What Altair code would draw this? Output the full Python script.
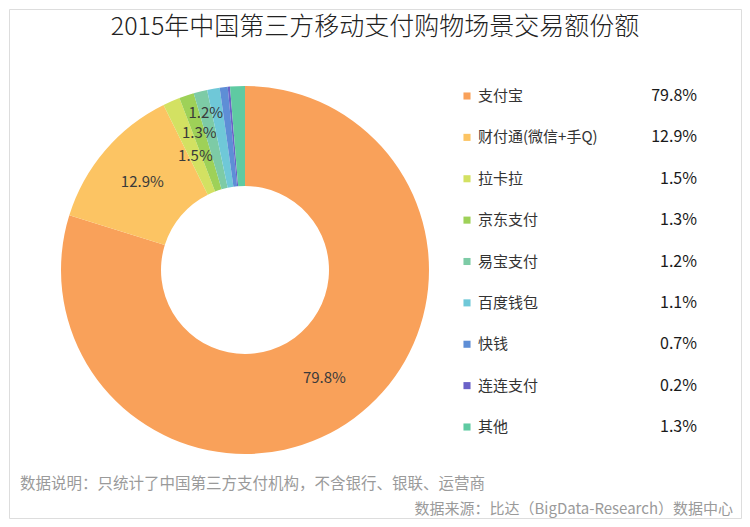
import altair as alt
import pandas as pd

# ---- data ----
names = ["支付宝", "财付通(微信+手Q)", "拉卡拉", "京东支付", "易宝支付", "百度钱包", "快钱", "连连支付", "其他"]
values = [79.8, 12.9, 1.5, 1.3, 1.2, 1.1, 0.7, 0.2, 1.3]
colors = ["#F9A15A", "#FCC463", "#D3E162", "#9ED158", "#7DCBA6", "#6FC8D8", "#5E8ED6", "#6A62C8", "#5FCAA2"]
pie_labeled = ["支付宝", "财付通(微信+手Q)", "拉卡拉", "京东支付", "易宝支付"]

title_text = "2015年中国第三方移动支付购物场景交易额份额"
note1 = "数据说明：只统计了中国第三方支付机构，不含银行、银联、运营商"
note2 = "数据来源：比达（BigData-Research）数据中心"

df = pd.DataFrame({
    "name": names,
    "value": values,
    "idx": list(range(len(names))),
})
df["pct"] = [f"{v:.1f}%" for v in values]

# ---- layout (styles) ----
PAD = 1
W, H = 732, 509
OFF = 8 + PAD  # page offset of the view origin
CX, CY = 245 - OFF, 270 - OFF
R_OUT, R_IN = 184, 84
FONT = "Noto Sans CJK SC"

color_scale = alt.Scale(domain=names, range=colors)
base = alt.Chart(df)

donut = base.mark_arc(innerRadius=R_IN, outerRadius=R_OUT).encode(
    theta=alt.Theta("value:Q", stack=True),
    color=alt.Color("name:N", scale=color_scale, legend=None),
    order=alt.Order("idx:Q"),
    x=alt.value(CX),
    y=alt.value(CY),
)

label_radius = {"支付宝": 134, "财付通(微信+手Q)": 135, "拉卡拉": 124, "京东支付": 144, "易宝支付": 162}

label_layers = []
for nm in pie_labeled:
    r = label_radius[nm]
    lyr = base.transform_calculate(
        lab=f"datum.name === '{nm}' ? datum.pct : ''"
    ).mark_text(radius=r, font=FONT, fontSize=15, color="#3a3a3a").encode(
        theta=alt.Theta("value:Q", stack=True),
        order=alt.Order("idx:Q"),
        text="lab:N",
        x=alt.value(CX),
        y=alt.value(CY),
    )
    label_layers.append(lyr)

yscale = alt.Scale(domain=names, range=[96 - OFF, 427 - OFF], padding=0)

leg_sq = base.mark_square(size=50, opacity=1).encode(
    x=alt.value(467 - OFF),
    y=alt.Y("name:N", scale=yscale, axis=None),
    color=alt.Color("name:N", scale=color_scale, legend=None),
)
leg_txt = base.mark_text(align="left", baseline="middle", font=FONT, fontSize=15, color="#333333").encode(
    x=alt.value(478 - OFF),
    y=alt.Y("name:N", scale=yscale, axis=None),
    text="name:N",
)
leg_val = base.mark_text(align="right", baseline="middle", font=FONT, fontSize=16, color="#1a1a1a").encode(
    x=alt.value(697 - OFF),
    y=alt.Y("name:N", scale=yscale, axis=None),
    text="pct:N",
)

title = alt.Chart(pd.DataFrame({"t": [title_text]})).mark_text(
    font=FONT, fontSize=25, fontWeight=300, color="#222222", align="center", baseline="middle"
).encode(x=alt.value(375 - OFF), y=alt.value(27 - OFF), text="t:N")
n1 = alt.Chart(pd.DataFrame({"t": [note1]})).mark_text(
    font=FONT, fontSize=15.5, color="#9a9a9a", align="left", baseline="middle"
).encode(x=alt.value(20 - OFF), y=alt.value(484 - OFF), text="t:N")
n2 = alt.Chart(pd.DataFrame({"t": [note2]})).mark_text(
    font=FONT, fontSize=15, color="#9a9a9a", align="right", baseline="middle"
).encode(x=alt.value(733 - OFF), y=alt.value(509 - OFF), text="t:N")

chart = alt.layer(donut, *label_layers, leg_sq, leg_txt, leg_val, title, n1, n2).properties(
    width=W, height=H, padding=PAD, autosize=alt.AutoSizeParams(type="none")
).configure_view(stroke="#8c8c8c", strokeWidth=1.5).configure(background="white")

chart.save("out.html", embed_options={"renderer": "svg", "actions": False})
